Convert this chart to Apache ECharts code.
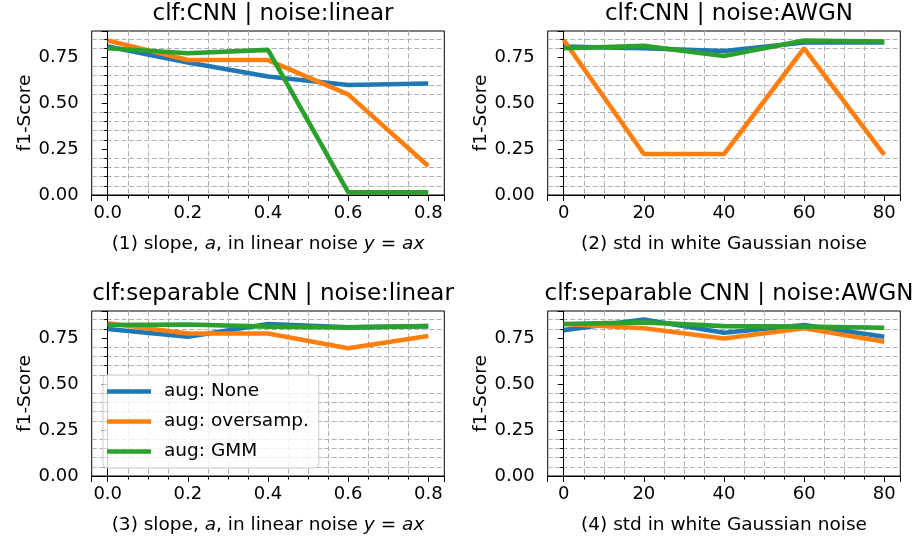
<!DOCTYPE html>
<html>
<head>
<meta charset="utf-8">
<script src="https://cdn.jsdelivr.net/npm/echarts@6/dist/echarts.min.js"></script>
<style>
html,body{margin:0;padding:0;background:#fff;}
#c{width:913px;height:539px;}
</style>
</head>
<body>
<div id="c"></div>
<script>
// ---- data ----
const xLinear = [0.0, 0.2, 0.4, 0.6, 0.8];
const xAwgn = [0, 20, 40, 60, 80];
const seriesNames = ['aug: None', 'aug: oversamp.', 'aug: GMM'];
const titles = ['clf:CNN | noise:linear', 'clf:CNN | noise:AWGN', 'clf:separable CNN | noise:linear', 'clf:separable CNN | noise:AWGN'];
const cnnLinearNone = [0.808, 0.721, 0.645, 0.599, 0.607];
const cnnLinearOversamp = [0.841, 0.735, 0.735, 0.548, 0.158];
const cnnLinearGmm = [0.799, 0.772, 0.790, 0.015, 0.015];
const cnnAwgnNone = [0.808, 0.799, 0.784, 0.830, 0.830];
const cnnAwgnOversamp = [0.844, 0.223, 0.223, 0.799, 0.218];
const cnnAwgnGmm = [0.799, 0.812, 0.757, 0.841, 0.835];
const sepLinearNone = [0.799, 0.757, 0.826, 0.808, 0.815];
const sepLinearOversamp = [0.830, 0.775, 0.775, 0.694, 0.761];
const sepLinearGmm = [0.821, 0.824, 0.812, 0.808, 0.815];
const sepAwgnNone = [0.793, 0.851, 0.779, 0.821, 0.757];
const sepAwgnOversamp = [0.826, 0.803, 0.748, 0.803, 0.730];
const sepAwgnGmm = [0.826, 0.835, 0.815, 0.812, 0.806];

const FONT = 'DejaVu Sans';
const colors = ['#1f77b4', '#ff7f0e', '#2ca02c'];

const panels = [
  {x: xLinear, ys: [cnnLinearNone, cnnLinearOversamp, cnnLinearGmm], kind: 'lin', idx: 1, ymax: 0.893},
  {x: xAwgn, ys: [cnnAwgnNone, cnnAwgnOversamp, cnnAwgnGmm], kind: 'awgn', idx: 2, ymax: 0.893},
  {x: xLinear, ys: [sepLinearNone, sepLinearOversamp, sepLinearGmm], kind: 'lin', idx: 3, ymax: 0.897},
  {x: xAwgn, ys: [sepAwgnNone, sepAwgnOversamp, sepAwgnGmm], kind: 'awgn', idx: 4, ymax: 0.897}
];

const gridPos = [
  {left: 91.7, top: 31, width: 352.6, height: 164},
  {left: 547.7, top: 31, width: 352.6, height: 164},
  {left: 91.7, top: 311, width: 352.6, height: 165},
  {left: 547.7, top: 311, width: 352.6, height: 165}
];

const dashed = {color: '#b0b0b0', width: 1, type: [5, 2.5]};
const richBase = {fontFamily: FONT, fontSize: 18.5, color: '#000'};

const grids = [], xAxes = [], yAxes = [], series = [], titleArr = [];
panels.forEach((p, i) => {
  const g = gridPos[i];
  grids.push(Object.assign({show: true, borderColor: '#000', borderWidth: 1, backgroundColor: 'transparent', containLabel: false}, g));
  titleArr.push({
    text: titles[i], left: g.left + g.width / 2, top: g.top - 33, textAlign: 'center',
    textStyle: {fontFamily: FONT, fontSize: 23, fontWeight: 'normal', color: '#000'}
  });
  const span = p.x[p.x.length - 1] - p.x[0];
  const xname = p.kind === 'lin'
    ? '{n|(' + p.idx + ') slope, }{i|a}{n|, in linear noise }{i|y}{n| = }{i|ax}'
    : '{n|(' + p.idx + ') std in white Gaussian noise}';
  xAxes.push({
    type: 'value', gridIndex: i,
    min: p.x[0] - span * 0.05, max: p.x[p.x.length - 1] + span * 0.05,
    splitNumber: 4,
    name: xname, nameLocation: 'middle', nameGap: 40,
    nameTextStyle: {rich: {n: richBase, i: Object.assign({}, richBase, {fontStyle: 'italic'})}},
    axisLine: {show: true, lineStyle: {color: '#000', width: 1}},
    axisTick: {show: true, length: 6, lineStyle: {color: '#000', width: 1}},
    minorTick: {show: true, splitNumber: 4, length: 3.5, lineStyle: {color: '#000', width: 1}},
    axisLabel: {
      fontFamily: FONT, fontSize: 18, color: '#000', margin: 9,
      showMinLabel: false, showMaxLabel: false,
      formatter: v => p.kind === 'lin' ? v.toFixed(1) : String(Math.round(v))
    },
    splitLine: {show: false},
    minorSplitLine: {show: true, lineStyle: dashed}
  });
  yAxes.push({
    type: 'value', gridIndex: i, min: 0, max: p.ymax, interval: 0.25,
    name: 'f1-Score', nameLocation: 'middle', nameGap: 52,
    nameTextStyle: {fontFamily: FONT, fontSize: 18.5, color: '#000'},
    axisLine: {show: true, lineStyle: {color: '#000', width: 1}},
    axisTick: {show: true, length: 6, lineStyle: {color: '#000', width: 1}},
    minorTick: {show: true, splitNumber: 5, length: 3.5, lineStyle: {color: '#000', width: 1}},
    axisLabel: {
      fontFamily: FONT, fontSize: 18, color: '#000', margin: 13,
      showMaxLabel: false, formatter: v => v.toFixed(2)
    },
    splitLine: {show: false},
    minorSplitLine: {show: true, lineStyle: dashed}
  });
  p.ys.forEach((ys, k) => {
    series.push({
      type: 'line', name: seriesNames[k], xAxisIndex: i, yAxisIndex: i,
      data: p.x.map((xv, j) => [xv, ys[j]]),
      symbol: 'none', showSymbol: false,
      lineStyle: {width: 4.6, color: colors[k]}, itemStyle: {color: colors[k]},
      z: 3 + k
    });
  });
});

const chart = echarts.init(document.getElementById('c'), null, {renderer: 'canvas'});
chart.setOption({
  animation: false,
  backgroundColor: '#fff',
  title: titleArr,
  grid: grids,
  xAxis: xAxes,
  yAxis: yAxes,
  legend: {
    data: seriesNames, orient: 'vertical', left: 103, top: 375,
    padding: [7, 10, 7, 4], itemGap: 11, itemWidth: 44, itemHeight: 4.6, icon: 'rect',
    textStyle: {fontFamily: FONT, fontSize: 18.5, color: '#000', padding: [0, 0, 0, 8]},
    borderColor: '#cccccc', borderWidth: 1, borderRadius: 4,
    backgroundColor: 'rgba(255,255,255,0.8)', z: 10
  },
  series: series
});
</script>
</body>
</html>
